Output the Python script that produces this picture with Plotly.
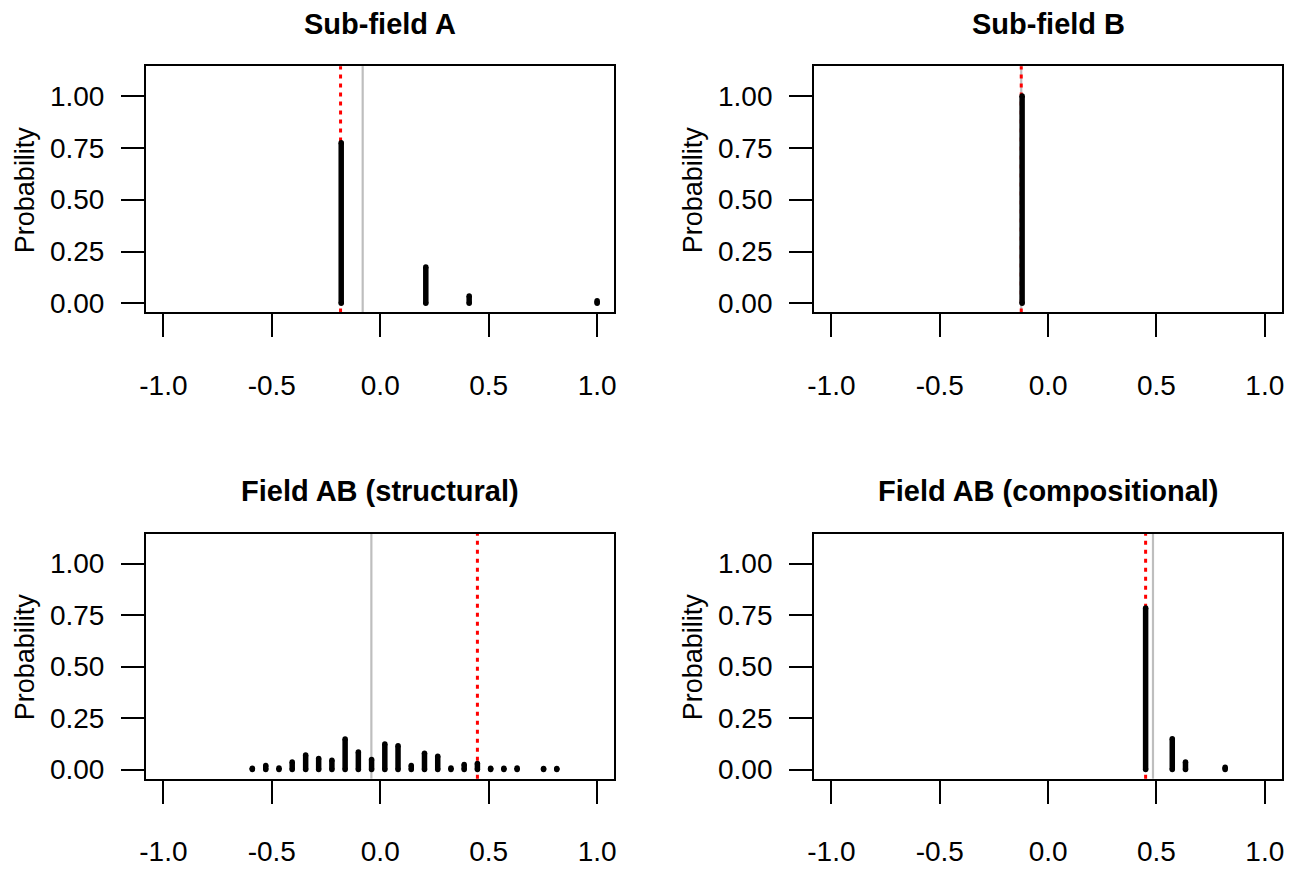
import plotly.graph_objects as go

# Sub-field A
a_x = [-0.18, 0.21, 0.41, 1.0]
a_p = [0.775, 0.175, 0.035, 0.012]
# Sub-field B
b_x = [-0.12]
b_p = [1.0]
# Field AB (structural)
c_x = [-0.59, -0.528, -0.467, -0.406, -0.344, -0.284, -0.223, -0.162,
       -0.101, -0.040, 0.021, 0.082, 0.143, 0.204, 0.265, 0.326, 0.387,
       0.448, 0.509, 0.570, 0.631, 0.753, 0.814]
c_p = [0.006, 0.02, 0.008, 0.037, 0.071, 0.054, 0.046, 0.148,
       0.085, 0.049, 0.124, 0.116, 0.02, 0.079, 0.065, 0.008, 0.025,
       0.03, 0.006, 0.006, 0.008, 0.005, 0.005]
# Field AB (compositional)
d_x = [0.45, 0.573, 0.634, 0.817]
d_p = [0.785, 0.15, 0.037, 0.012]

titles = ["Sub-field A", "Sub-field B", "Field AB (structural)", "Field AB (compositional)"]
observed = [-0.183, -0.124, 0.448, 0.45]   # red dotted line
expected = [-0.081, -0.124, -0.041, 0.484]  # grey line

x_ticks = [-1.0, -0.5, 0.0, 0.5, 1.0]
y_ticks = [0.0, 0.25, 0.5, 0.75, 1.0]

W, H = 1303, 869
FONT = "Liberation Sans, Arial, Helvetica, sans-serif"

# panel boxes in pixels: (left, right, top, bottom)
boxes = [(140, 611.7, 66.7, 315), (812.7, 1284, 66.7, 315),
         (140, 611.7, 538.3, 785), (812.7, 1284, 538.3, 785)]

fig = go.Figure()
panels = [(a_x, a_p), (b_x, b_p), (c_x, c_p), (d_x, d_p)]
layout = {}
annotations = []
shapes = []
for i, ((xs, ps), (l, r, t, b)) in enumerate(zip(panels, boxes)):
    n = "" if i == 0 else str(i + 1)
    xa, ya = "x" + n, "y" + n
    lx, ly = [], []
    for xv, pv in zip(xs, ps):
        lx += [xv, xv, None]
        ly += [0, pv, None]
    fig.add_trace(go.Scatter(
        x=lx, y=ly, xaxis=xa, yaxis=ya, mode="lines+markers",
        line=dict(color="black", width=5.5),
        marker=dict(color="black", size=5.5),
        showlegend=False, hoverinfo="skip"
    ))
    axis_common = dict(showline=True, mirror=True, linecolor="black", linewidth=2,
                       ticks="outside", ticklen=23, tickwidth=2, tickcolor="black",
                       showgrid=False, zeroline=False,
                       tickfont=dict(family=FONT, size=28, color="black"))
    layout["xaxis" + n] = dict(axis_common, domain=[l / W, r / W], anchor=ya,
                               range=[-1.08, 1.08], tickvals=x_ticks,
                               ticktext=[f"{v:.1f}" for v in x_ticks],
                               ticklabelstandoff=24)
    layout["yaxis" + n] = dict(axis_common, domain=[1 - b / H, 1 - t / H], anchor=xa,
                               range=[-0.044, 1.144], tickvals=y_ticks,
                               ticktext=[f"{v:.2f}" for v in y_ticks],
                               ticklabelstandoff=11)
    # reference lines
    shapes.append(dict(type="line", xref=xa, yref=ya + " domain", x0=expected[i], x1=expected[i],
                       y0=0, y1=1, line=dict(color="#BEBEBE", width=2.2), layer="below"))
    shapes.append(dict(type="line", xref=xa, yref=ya + " domain", x0=observed[i], x1=observed[i],
                       y0=0, y1=1, line=dict(color="red", width=3, dash="4px,5px"), layer="below"))
    annotations.append(dict(text="<b>" + titles[i] + "</b>", xref="paper", yref="paper",
                            x=(l + r) / 2 / W, y=1 - (t - 43) / H, showarrow=False,
                            xanchor="center", yanchor="middle",
                            font=dict(family=FONT, size=29, color="black")))
    annotations.append(dict(text="Probability", xref="paper", yref="paper",
                            x=(l - 122) / W, y=1 - (t + b) / 2 / H, showarrow=False,
                            textangle=-90, xanchor="center", yanchor="middle",
                            font=dict(family=FONT, size=27, color="black")))

fig.update_layout(**layout)
fig.update_layout(
    width=W, height=H,
    margin=dict(l=0, r=0, t=0, b=0),
    paper_bgcolor="white", plot_bgcolor="white",
    annotations=annotations, shapes=shapes
)

fig.write_html("out.html", config={"displayModeBar": False},
               post_script="document.body.style.margin='0';")
